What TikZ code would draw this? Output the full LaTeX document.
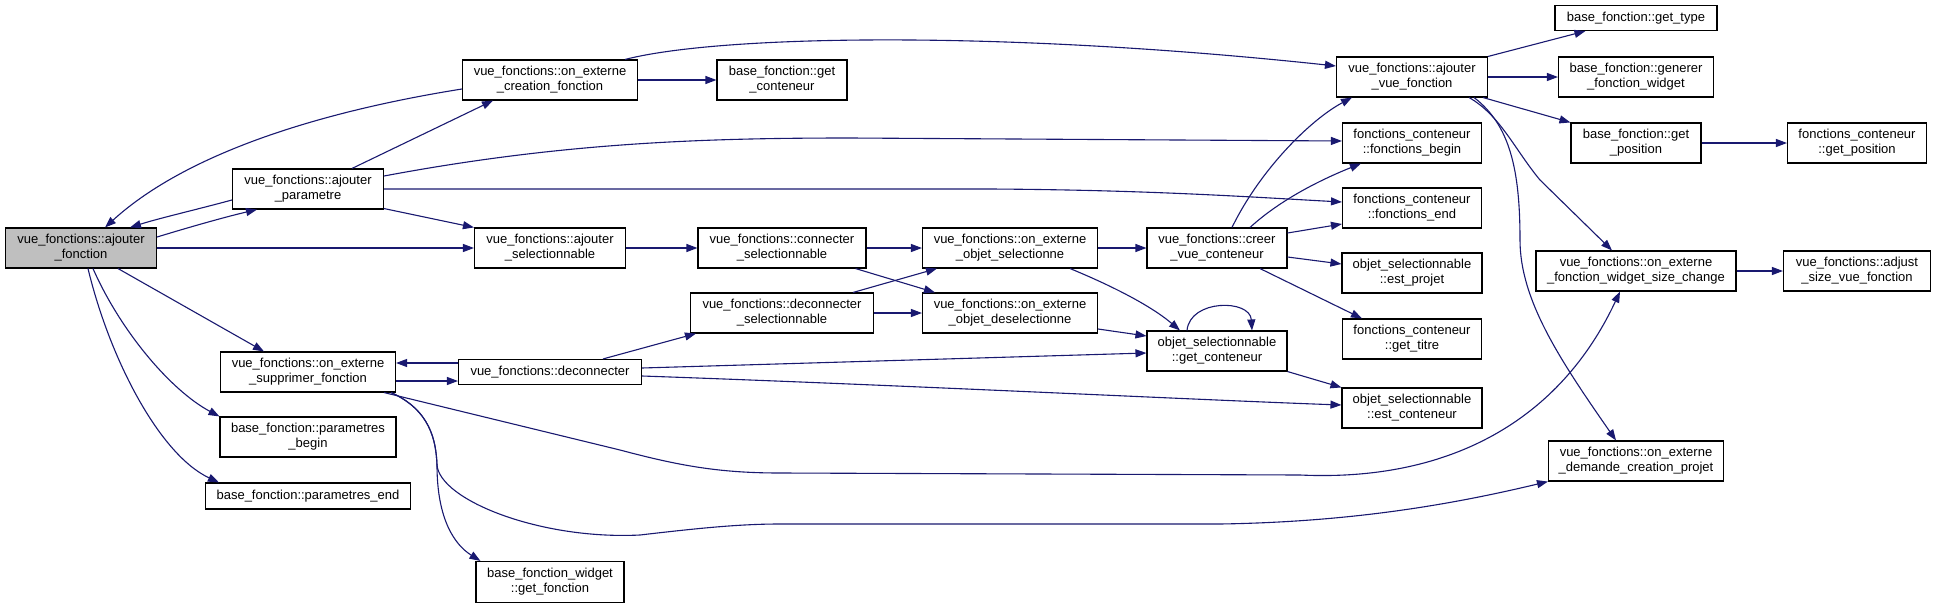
\documentclass[tikz,border=0pt]{standalone}
\usepackage{fontspec}
\setmainfont{Liberation Sans}
\usetikzlibrary{arrows.meta,calc}
\definecolor{edgecol}{RGB}{25,25,112}
\definecolor{nodegray}{RGB}{191,191,191}
\begin{document}
\begin{tikzpicture}[x=1pt,y=-1pt,
  fn/.style={draw=black, line width=1.1pt, fill=white, inner sep=0pt, align=center,
    minimum height=40pt, font=\fontsize{13}{15}\selectfont},
  call/.style={draw=edgecol, line width=1.1pt, -{Triangle[length=11pt,width=8pt]}},
]
\useasboundingbox (0,0) rectangle (1936,608);
\fill[white] (0,0) rectangle (1936,608);

% nodes
\node[fn, fill=nodegray, minimum width=151pt] (af) at (81,248) {vue\_fonctions::ajouter\\\_fonction};
\node[fn, minimum width=151pt] (ap) at (308,189) {vue\_fonctions::ajouter\\\_parametre};
\node[fn, minimum width=175pt] (oecf) at (550,80) {vue\_fonctions::on\_externe\\\_creation\_fonction};
\node[fn, minimum width=151pt] (as) at (550,248) {vue\_fonctions::ajouter\\\_selectionnable};
\node[fn, minimum width=175pt] (osf) at (308,372) {vue\_fonctions::on\_externe\\\_supprimer\_fonction};
\node[fn, minimum width=183pt, minimum height=25pt] (dec) at (550,372) {vue\_fonctions::deconnecter};
\node[fn, minimum width=176pt] (pb) at (308,437) {base\_fonction::parametres\\\_begin};
\node[fn, minimum width=205pt, minimum height=26pt] (pe) at (308,496) {base\_fonction::parametres\_end};
\node[fn, minimum width=148pt, minimum height=41pt] (gf) at (550,582) {base\_fonction\_widget\\::get\_fonction};
\node[fn, minimum width=130pt] (gc) at (782,80) {base\_fonction::get\\\_conteneur};
\node[fn, minimum width=168pt] (cs) at (782,248) {vue\_fonctions::connecter\\\_selectionnable};
\node[fn, minimum width=183pt] (ds) at (782,313) {vue\_fonctions::deconnecter\\\_selectionnable};
\node[fn, minimum width=175pt] (oos) at (1010,248) {vue\_fonctions::on\_externe\\\_objet\_selectionne};
\node[fn, minimum width=175pt] (ood) at (1010,313) {vue\_fonctions::on\_externe\\\_objet\_deselectionne};
\node[fn, minimum width=140pt] (cvc) at (1217,248) {vue\_fonctions::creer\\\_vue\_conteneur};
\node[fn, minimum width=140pt] (osgc) at (1217,351) {objet\_selectionnable\\::get\_conteneur};
\node[fn, minimum width=151pt] (avf) at (1412,77) {vue\_fonctions::ajouter\\\_vue\_fonction};
\node[fn, minimum width=139pt] (fb) at (1412,143) {fonctions\_conteneur\\::fonctions\_begin};
\node[fn, minimum width=139pt] (fe) at (1412,208) {fonctions\_conteneur\\::fonctions\_end};
\node[fn, minimum width=140pt] (ep) at (1412,273) {objet\_selectionnable\\::est\_projet};
\node[fn, minimum width=139pt] (gt) at (1412,339) {fonctions\_conteneur\\::get\_titre};
\node[fn, minimum width=140pt] (ec) at (1412,408) {objet\_selectionnable\\::est\_conteneur};
\node[fn, minimum width=162pt, minimum height=25pt] (gty) at (1636,18) {base\_fonction::get\_type};
\node[fn, minimum width=155pt] (gfw) at (1636,77) {base\_fonction::generer\\\_fonction\_widget};
\node[fn, minimum width=130pt] (gp) at (1636,143) {base\_fonction::get\\\_position};
\node[fn, minimum width=139pt] (fcgp) at (1857,143) {fonctions\_conteneur\\::get\_position};
\node[fn, minimum width=200pt] (sc) at (1636,271) {vue\_fonctions::on\_externe\\\_fonction\_widget\_size\_change};
\node[fn, minimum width=147pt] (asv) at (1857,271) {vue\_fonctions::adjust\\\_size\_vue\_fonction};
\node[fn, minimum width=175pt] (dcp) at (1636,461) {vue\_fonctions::on\_externe\\\_demande\_creation\_projet};

% edges
\draw[call] ($(af.east)+(0,-11)$) .. controls (190,227) and (225,217) .. ($(ap.south)+(-51,0)$);
\draw[call] ($(ap.west)+(0,11)$) .. controls (195,210) and (160,218) .. ($(af.north)+(49,0)$);
\draw[call] ($(oecf.west)+(0,9)$) .. controls (330,110) and (190,150) .. ($(af.north)+(24,0)$);
\draw[call] ($(ap.north)+(44,0)$) -- ($(oecf.south)+(-57,0)$);
\draw[call] (af.east) -- (as.west);
\draw[call] ($(ap.south east)+(0,-1)$) -- (as.north west);
\draw[call] ($(ap.east)+(0,-13)$) .. controls (560,143) and (700,138) .. (850,138) -- ($(fb.west)+(0,-2)$);
\draw[call] (ap.east) -- (990,189) .. controls (1150,190) and (1250,197) .. ($(fe.west)+(0,-6)$);
\draw[call] ($(af.south)+(37,0)$) -- ($(osf.north)+(-44,0)$);
\draw[call] ($(af.south)+(12,0)$) .. controls (120,330) and (170,390) .. (pb.north west);
\draw[call] ($(af.south)+(7,0)$) .. controls (110,360) and (160,455) .. ($(pe.north west)+(14,0)$);
\draw[call] (oecf.east) -- (gc.west);
\draw[call] ($(oecf.north east)+(-13,0)$) .. controls (720,35) and (1000,30) .. ($(avf.west)+(0,-11)$);
\draw[call] (as.east) -- (cs.west);
\draw[call] (cs.east) -- (oos.west);
\draw[call] ($(cs.south east)+(-11,0)$) -- ($(ood.north west)+(13,0)$);
\draw[call] ($(ds.north east)+(-21,0)$) -- ($(oos.south west)+(15,0)$);
\draw[call] (ds.east) -- (ood.west);
\draw[call] (oos.east) -- (cvc.west);
\draw[call] ($(oos.south east)+(-28,0)$) .. controls (1110,285) and (1150,305) .. ($(osgc.north)+(-37,0)$);
\draw[call] ($(ood.east)+(0,16)$) -- ($(osgc.west)+(0,-15)$);
\draw[call] ($(osgc.north)+(-30,0)$) .. controls (1190,299) and (1250,299) .. ($(osgc.north)+(35,0)$);
\draw[call] (osgc.south east) -- (ec.north west);
\draw[call] ($(cvc.north)+(15,0)$) .. controls (1260,170) and (1310,120) .. ($(avf.south west)+(16,0)$);
\draw[call] ($(cvc.north)+(33,0)$) .. controls (1280,200) and (1320,180) .. ($(fb.south west)+(19,0)$);
\draw[call] ($(cvc.east)+(0,-15)$) -- ($(fe.west)+(0,16)$);
\draw[call] ($(cvc.east)+(0,9)$) -- ($(ep.west)+(0,-9)$);
\draw[call] ($(cvc.south)+(43,0)$) -- ($(gt.north west)+(20,0)$);
\draw[call] ($(osf.east)+(0,9)$) -- ($(dec.west)+(0,9)$);
\draw[call] ($(dec.west)+(0,-9)$) -- ($(osf.east)+(0,-9)$);
\draw[call] ($(dec.north)+(53,0)$) -- ($(ds.south west)+(6,0)$);
\draw[call] ($(dec.east)+(0,-4)$) -- ($(osgc.west)+(0,2)$);
\draw[call] ($(dec.east)+(0,4)$) .. controls (900,385) and (1200,400) .. ($(ec.west)+(0,-3)$);
\draw[call] ($(osf.south east)+(-12,0)$) -- (620,450) .. controls (680,466) and (720,473) .. (780,473) -- (1300,475) .. controls (1450,482) and (1560,420) .. ($(sc.south)+(-16,0)$);
\draw[call] ($(osf.south east)+(-5,0)$) .. controls (430,410) and (436,440) .. (437,465) .. controls (440,500) and (540,540) .. (640,535) .. controls (700,528) and (740,524) .. (780,524) -- (1220,524) .. controls (1350,522) and (1450,505) .. (dcp.south west);
\draw[call] ($(osf.south east)+(-5,0)$) .. controls (430,410) and (436,440) .. (437,465) .. controls (437,520) and (455,545) .. ($(gf.north west)+(5,0)$);
\draw[call] (avf.north east) -- ($(gty.south west)+(31,0)$);
\draw[call] (avf.east) -- (gfw.west);
\draw[call] ($(avf.south east)+(-5,0)$) -- (gp.north west);
\draw[call] ($(avf.south east)+(-19,0)$) .. controls (1500,115) and (1515,150) .. (1540,180) -- ($(sc.north)+(-24,0)$);
\draw[call] ($(avf.south east)+(-14,0)$) .. controls (1510,125) and (1520,170) .. (1520,240) .. controls (1520,300) and (1560,360) .. ($(dcp.north)+(-20,0)$);
\draw[call] (gp.east) -- (fcgp.west);
\draw[call] (sc.east) -- (asv.west);
\end{tikzpicture}
\end{document}
